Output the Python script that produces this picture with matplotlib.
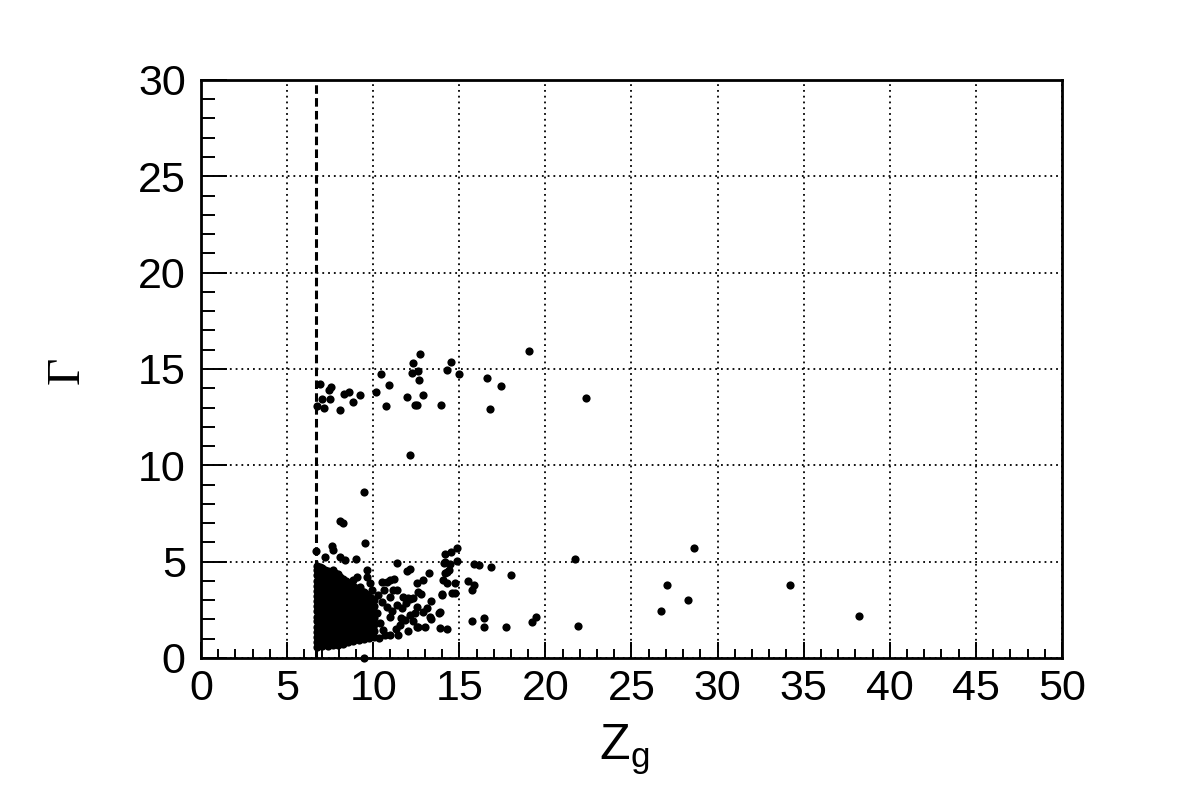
import matplotlib
matplotlib.use("Agg")
import matplotlib.pyplot as plt
from matplotlib.ticker import MultipleLocator

plt.rcParams['font.family'] = ['Liberation Sans', 'DejaVu Sans']

# cut on Z_g shown as dashed line
zg_cut = 6.7

# dense core of the distribution, stored column by column
core_zg = [6.75, 7.05, 7.35, 7.65, 7.95, 8.25, 8.55, 8.85, 9.15, 9.45, 9.75, 10.05]
core_gamma = [
    [0.55, 0.82, 1.08, 1.36, 1.62, 1.9, 2.15, 2.43, 2.7, 2.96, 3.22, 3.5, 3.76, 4.02, 4.3, 4.58, 4.8],
    [0.62, 0.9, 1.15, 1.44, 1.7, 1.97, 2.25, 2.5, 2.78, 3.05, 3.3, 3.58, 3.85, 4.1, 4.38, 4.66],
    [0.6, 0.88, 1.2, 1.45, 1.75, 2.02, 2.3, 2.58, 2.85, 3.12, 3.4, 3.66, 3.93, 4.2, 4.5],
    [0.65, 0.95, 1.22, 1.5, 1.78, 2.05, 2.35, 2.62, 2.9, 3.18, 3.45, 3.72, 4.0, 4.28, 4.55],
    [0.7, 0.98, 1.25, 1.55, 1.82, 2.1, 2.38, 2.66, 2.94, 3.2, 3.5, 3.78, 4.05, 4.35],
    [0.75, 1.02, 1.3, 1.58, 1.86, 2.14, 2.42, 2.7, 2.98, 3.26, 3.55, 3.82, 4.1],
    [0.82, 1.1, 1.38, 1.66, 1.94, 2.22, 2.5, 2.78, 3.06, 3.34, 3.62, 3.9],
    [0.9, 1.2, 1.48, 1.76, 2.04, 2.32, 2.6, 2.88, 3.16, 3.44, 3.72],
    [0.95, 1.25, 1.55, 1.83, 2.1, 2.4, 2.7, 2.98, 3.26, 3.55],
    [1.0, 1.3, 1.6, 1.9, 2.2, 2.5, 2.8, 3.1, 3.4],
    [1.05, 1.35, 1.65, 1.95, 2.25, 2.55, 2.85, 3.15],
    [1.1, 1.42, 1.75, 2.05, 2.38, 2.7, 3.0],
]
core2_zg = [6.9, 7.2, 7.5, 7.8, 8.1, 8.4, 8.7, 9.0, 9.3, 9.6, 9.9]
core2_gamma = [
    [0.7, 0.95, 1.22, 1.5, 1.76, 2.02, 2.3, 2.56, 2.83, 3.1, 3.36, 3.63, 3.9, 4.16, 4.44, 4.7],
    [0.75, 1.02, 1.3, 1.58, 1.85, 2.12, 2.4, 2.66, 2.92, 3.2, 3.46, 3.74, 4.0, 4.28, 4.55],
    [0.74, 1.05, 1.33, 1.6, 1.9, 2.18, 2.45, 2.72, 3.0, 3.28, 3.55, 3.82, 4.1, 4.38],
    [0.8, 1.1, 1.38, 1.65, 1.94, 2.22, 2.5, 2.78, 3.05, 3.32, 3.6, 3.88, 4.15, 4.42],
    [0.85, 1.12, 1.4, 1.7, 1.98, 2.26, 2.54, 2.8, 3.08, 3.36, 3.64, 3.92, 4.2],
    [0.9, 1.18, 1.45, 1.74, 2.02, 2.3, 2.58, 2.86, 3.14, 3.42, 3.7, 3.98],
    [0.95, 1.25, 1.52, 1.8, 2.08, 2.36, 2.64, 2.92, 3.2, 3.5, 3.8],
    [1.05, 1.33, 1.62, 1.9, 2.18, 2.46, 2.75, 3.04, 3.32, 3.62],
    [1.12, 1.42, 1.72, 2.02, 2.32, 2.62, 2.92, 3.22, 3.5],
    [1.18, 1.48, 1.8, 2.1, 2.4, 2.7, 3.0, 3.3],
    [1.25, 1.55, 1.88, 2.2, 2.52, 2.84, 3.1],
]

# sparser tail of the low-Gamma group
tail_zg = [10.98, 10.78, 10.49, 11.17, 11.36, 12.04, 11.65, 12.52, 13.3, 13.88,
           12.52, 10.98, 11.46, 9.81, 11.56, 11.85, 12.14, 10.98, 10.78, 11.36,
           10.2, 10.4, 10.59, 10.0, 11.75, 10.98, 10.3, 9.91, 9.81, 9.62,
           9.04, 8.85, 9.23, 9.62, 14.07, 14.75, 13.98, 14.27, 14.17, 10.5,
           11.1, 11.3, 10.7, 10.35, 12.0, 11.6, 12.3, 13.1, 12.8, 11.9,
           10.6, 11.2]
tail_gamma = [4.05, 3.96, 3.96, 3.53, 3.53, 3.1, 2.58, 2.66, 2.14, 2.41,
              1.63, 1.19, 1.19, 1.1, 1.71, 1.97, 2.23, 2.14, 2.66, 2.75,
              2.32, 1.8, 1.45, 1.63, 3.18, 3.18, 3.27, 3.53, 3.88, 4.22,
              4.22, 4.05, 3.7, 4.57, 4.05, 3.36, 3.27, 4.48, 5.0, 2.9,
              2.45, 1.5, 1.2, 1.05, 1.4, 2.1, 1.9, 2.6, 3.3, 2.85,
              3.55, 4.1]

# isolated points below Gamma = 10
mid_zg = [9.47, 8.07, 8.27, 9.54, 6.68, 7.61, 7.68, 7.2, 8.07, 8.38,
          8.98, 11.4, 14.15, 14.52, 14.88, 14.13, 14.46, 14.88, 14.38, 14.19,
          14.27, 14.73, 14.6, 14.0, 13.88, 14.3, 13.22, 12.91, 12.53, 12.62,
          13.36, 13.84, 13.36, 13.01, 12.62, 12.14, 12.33, 11.94, 12.14, 12.91,
          12.43, 15.85, 16.12, 16.82, 18.02, 15.52, 15.85, 15.74, 15.72, 16.45,
          16.45, 17.69, 19.2, 19.45, 21.72, 21.91, 28.65, 27.04, 28.3, 26.71,
          34.2, 38.2, 9.47]
mid_gamma = [8.6, 7.13, 7.02, 5.95, 5.54, 5.81, 5.61, 5.23, 5.23, 5.09,
             5.12, 4.91, 5.4, 5.52, 5.73, 4.95, 4.88, 5.05, 4.57, 4.4,
             3.88, 3.91, 3.39, 3.32, 1.54, 1.52, 4.43, 4.05, 3.91, 3.44,
             2.97, 2.35, 2.04, 1.63, 1.59, 3.06, 3.1, 4.53, 4.6, 2.41,
             2.32, 4.86, 4.84, 4.74, 4.31, 3.98, 3.81, 3.53, 1.9, 2.08,
             1.63, 1.63, 1.85, 2.11, 5.12, 1.66, 5.69, 3.79, 3.01, 2.42,
             3.79, 2.18, 0.0]

# upper band around Gamma ~ 13-16
band_zg = [6.91, 6.72, 7.01, 7.14, 7.45, 7.57, 7.49, 8.07, 8.3, 8.61,
           8.85, 9.23, 10.16, 10.43, 10.74, 10.9, 11.94, 12.14, 12.33, 12.25,
           12.58, 12.72, 12.64, 12.87, 12.43, 12.56, 13.94, 14.27, 14.52, 15.0,
           16.59, 16.78, 17.4, 19.07, 22.36]
band_gamma = [14.22, 13.08, 13.43, 12.98, 13.91, 14.08, 13.43, 12.87, 13.69, 13.79,
              13.3, 13.67, 13.79, 14.74, 13.06, 14.17, 13.55, 10.52, 15.3, 14.81,
              14.91, 15.76, 14.43, 13.67, 13.12, 13.13, 13.12, 14.95, 15.36, 14.72,
              14.52, 12.92, 14.12, 15.93, 13.49]


def main():
    zg = []
    gamma = []
    for x, ys in zip(core_zg + core2_zg, core_gamma + core2_gamma):
        zg += [x] * len(ys)
        gamma += ys
    zg += tail_zg + mid_zg + band_zg
    gamma += tail_gamma + mid_gamma + band_gamma

    fig = plt.figure(figsize=(11.81, 7.94), dpi=100)
    ax = fig.add_axes([0.1702, 0.1713, 0.729, 0.728])

    ax.plot(zg, gamma, 'o', ms=5.9, mec='none', color='black', clip_on=False, zorder=3)
    ax.axvline(zg_cut, color='black', lw=2.2, dashes=(2.8, 1.4), zorder=2)

    ax.set_xlim(0, 50)
    ax.set_ylim(0, 30)
    ax.xaxis.set_major_locator(MultipleLocator(5))
    ax.xaxis.set_minor_locator(MultipleLocator(1))
    ax.yaxis.set_major_locator(MultipleLocator(5))
    ax.yaxis.set_minor_locator(MultipleLocator(1))

    # ROOT-like ticks: inside, only on left and bottom
    ax.tick_params(which='both', direction='in', top=False, right=False,
                   width=1.4, labelsize=31)
    ax.tick_params(axis='x', which='major', length=11.5, pad=8)
    ax.tick_params(axis='x', which='minor', length=6.5)
    ax.tick_params(axis='y', which='major', length=18.7, pad=11)
    ax.tick_params(axis='y', which='minor', length=10)
    for spine in ax.spines.values():
        spine.set_linewidth(2.0)

    ax.grid(True, which='major', color='black', lw=1.3, linestyle=(0, (1, 2.2)))

    fig.text(624 / 1181, 1 - 760 / 794, r'$\mathregular{Z_g}$',
             ha='center', va='baseline', fontsize=36)
    fig.text(67 / 1181, 1 - 370 / 794, 'Γ', rotation=90, ha='center', va='center',
             family=['Liberation Serif', 'DejaVu Serif'], fontsize=34)

    fig.savefig("out.png", dpi=100)


if __name__ == "__main__":
    main()
